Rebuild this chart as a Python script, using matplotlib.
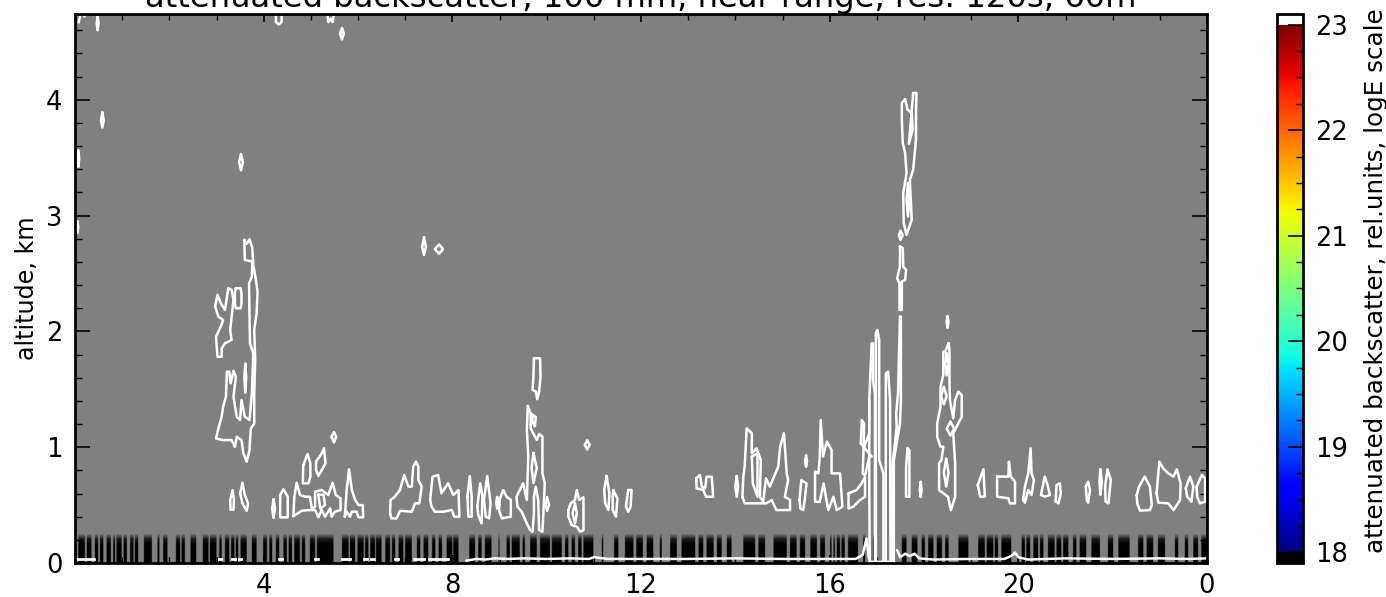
import numpy as np
import matplotlib

matplotlib.use('Agg')
import matplotlib.pyplot as plt
from matplotlib.cm import ScalarMappable
from matplotlib.colors import LinearSegmentedColormap, Normalize

# hours (0-24) and km for the contour loops
plume_main = [(3.59, 2.79), (3.64, 2.755), (3.70, 2.796), (3.76, 2.718), (3.78, 2.574), (3.83, 2.459), (3.87, 2.343),
              (3.85, 2.156), (3.80, 2.012), (3.82, 1.753), (3.80, 1.464), (3.80, 1.205), (3.73, 1.162), (3.71, 1.061),
              (3.70, .975), (3.64, .874), (3.57, .946), (3.53, 1.061), (3.43, 1.09), (3.39, 1.003), (3.32, 1.061),
              (3.14, 1.061), (2.99, 1.075), (3.04, 1.162), (3.11, 1.263), (3.14, 1.349), (3.20, 1.436), (3.22, 1.652),
              (3.27, 1.652), (3.30, 1.551), (3.36, 1.66), (3.41, 1.608), (3.36, 1.436), (3.43, 1.263), (3.50, 1.234),
              (3.53, 1.407), (3.60, 1.263), (3.70, 1.234), (3.75, 1.464), (3.78, 1.81), (3.71, 1.897), (3.70, 2.127),
              (3.69, 2.415), (3.75, 2.473), (3.76, 2.603), (3.60, 2.617)]
plume_inner = [(3.61, 1.72), (3.63, 1.6), (3.61, 1.47), (3.59, 1.6)]
plume_left = [(2.97, 2.214), (3.02, 2.315), (3.09, 2.243), (3.18, 2.185), (3.25, 2.372), (3.32, 2.358), (3.36, 2.271),
              (3.29, 2.012), (3.32, 1.925), (3.18, 1.897), (3.11, 1.853), (3.11, 1.781), (3.02, 1.781), (2.99, 1.954),
              (3.09, 2.041), (3.14, 2.098), (3.04, 2.127)]
plume_box = [(3.41, 2.372), (3.51, 2.372), (3.53, 2.33), (3.53, 2.24), (3.51, 2.199), (3.41, 2.199), (3.39, 2.24), (3.39, 2.33)]

low_morning = [
    [(3.30, .46), (3.29, .54), (3.34, .63), (3.37, .55), (3.36, .46)],
    [(3.50, .601), (3.55, .693), (3.60, .587), (3.67, .515), (3.64, .451), (3.55, .515)],
    [(4.21, .55), (4.24, .47), (4.21, .39), (4.18, .47)],
    [(4.35, .587), (4.42, .636), (4.51, .572), (4.51, .394), (4.35, .394)],
    [(4.63, .405), (4.65, .572), (4.70, .693), (4.77, .587), (4.88, .572), (4.98, .572), (5.02, .471), (5.09, .486),
     (5.09, .616), (5.23, .63), (5.37, .587), (5.46, .693), (5.53, .587), (5.63, .558), (5.63, .457), (5.51, .443),
     (5.44, .4), (5.41, .471), (5.30, .4), (5.23, .457), (5.16, .394), (5.09, .457), (4.95, .457), (4.81, .451)],
    [(5.16, .59), (5.27, .59), (5.30, .50), (5.20, .47)],
    [(5.72, .4), (5.76, .63), (5.81, .809), (5.87, .63), (5.94, .543), (6.01, .50), (6.10, .50), (6.11, .394),
     (6.01, .394), (5.97, .443), (5.87, .443), (5.83, .4), (5.76, .443)],
    [(4.84, .846), (4.93, .941), (4.99, .86), (4.99, .745), (4.95, .688), (4.83, .688)],
    [(5.11, .875), (5.21, .933), (5.28, .99), (5.31, .86), (5.16, .751), (5.11, .803)],
    [(5.44, 1.09), (5.49, 1.13), (5.54, 1.09), (5.49, 1.04)],
]

low_midday = [
    [(6.68, .428), (6.69, .544), (6.78, .572), (6.89, .63), (6.98, .76), (7.07, .659), (7.14, .659), (7.17, .832),
     (7.23, .875), (7.28, .832), (7.28, .717), (7.35, .659), (7.30, .515), (7.21, .515), (7.14, .443), (6.89, .451),
     (6.82, .385), (6.71, .385)],
    [(7.53, .544), (7.58, .745), (7.70, .76), (7.77, .601), (7.91, .688), (8.02, .587), (8.13, .63), (8.15, .40),
     (8.04, .40), (7.99, .457), (7.81, .443), (7.63, .443), (7.56, .486)],
    [(8.32, .572), (8.37, .751), (8.41, .572), (8.41, .40), (8.34, .40)],
    [(8.53, .486), (8.59, .688), (8.64, .572), (8.62, .342), (8.55, .414)],
    [(8.67, .544), (8.74, .751), (8.81, .515), (8.78, .385), (8.71, .40)],
    [(8.95, .57), (8.98, .52), (8.95, .47), (8.93, .52)],
    [(9.01, .558), (9.08, .63), (9.15, .572), (9.24, .544), (9.24, .40), (9.05, .385), (8.99, .457)],
    [(9.60, 1.356), (9.66, 1.293), (9.66, 1.163), (9.79, 1.062), (9.84, 1.114), (9.91, 1.091), (9.91, .774),
     (9.96, .688), (9.93, .428), (9.91, .27), (9.84, .284), (9.82, .544), (9.77, .659), (9.73, .572), (9.73, .428),
     (9.70, .27), (9.65, .284), (9.58, .342), (9.47, .443), (9.38, .486), (9.36, .572), (9.50, .688), (9.58, .544),
     (9.61, .918), (9.58, 1.149)],
    [(9.72, .95), (9.79, .82), (9.72, .69), (9.68, .82)],
    [(9.70, 1.28), (9.77, 1.26), (9.75, 1.18), (9.70, 1.22)],
    [(9.73, 1.768), (9.86, 1.768), (9.87, 1.61), (9.84, 1.48), (9.80, 1.414), (9.77, 1.48), (9.70, 1.495), (9.72, 1.61)],
    [(9.98, .50), (10.01, .57), (10.05, .50), (10.01, .45)],
    [(10.46, .457), (10.51, .515), (10.60, .544), (10.64, .63), (10.69, .544), (10.78, .567), (10.78, .284),
     (10.71, .27), (10.64, .313), (10.53, .327), (10.46, .40)],
    [(10.60, .515), (10.64, .43), (10.60, .342), (10.55, .43)],
    [(10.81, 1.02), (10.86, 1.06), (10.91, 1.02), (10.86, .98)],
    [(11.27, .751), (11.33, .601), (11.31, .457), (11.24, .515), (11.22, .63)],
    [(11.41, .63), (11.50, .558), (11.47, .40), (11.40, .457), (11.40, .572)],
    [(11.73, .63), (11.80, .63), (11.78, .486), (11.73, .443), (11.68, .486)],
]

low_afternoon = [
    [(13.17, .731), (13.25, .76), (13.29, .659), (13.36, .644), (13.39, .745), (13.50, .745), (13.53, .572),
     (13.38, .572), (13.32, .63), (13.18, .644)],
    [(14.03, .751), (14.06, .66), (14.03, .572), (14.0, .66)],
    [(14.15, .572), (14.17, .745), (14.20, .846), (14.24, 1.163), (14.35, 1.12), (14.35, .947), (14.45, .99),
     (14.54, .889), (14.52, .572), (14.59, .529), (14.65, .731), (14.73, .659), (14.91, .832), (14.95, 1.004),
     (15.03, 1.12), (15.09, .774), (15.12, .716), (15.05, .572), (15.16, .544), (15.16, .457), (14.87, .457),
     (14.77, .544), (14.66, .515), (14.56, .515), (14.38, .515), (14.20, .515)],
    [(14.35, .918), (14.47, .947), (14.47, .572), (14.37, .687)],
    [(15.50, .93), (15.52, .88), (15.50, .83), (15.48, .88)],
    [(15.36, .543), (15.40, .716), (15.51, .687), (15.47, .543), (15.44, .457), (15.38, .47)],
    [(15.69, .788), (15.76, .774), (15.79, .918), (15.81, 1.235), (15.86, .918), (15.94, 1.048), (16.04, .976),
     (16.04, .774), (16.22, .774), (16.27, .486), (16.15, .457), (16.08, .572), (15.97, .457), (15.87, .687),
     (15.79, .529), (15.69, .529)],
    [(16.40, .601), (16.57, .63), (16.68, .688), (16.75, .745), (16.75, .572), (16.64, .543), (16.50, .486),
     (16.40, .471)],
    [(16.66, 1.033), (16.68, 1.234), (16.73, 1.206), (16.72, 1.004), (16.70, .772), (16.75, .757), (16.85, .932),
     (16.89, .918)],
    [(17.65, .99), (17.69, .975), (17.69, .572), (17.62, .572), (17.62, .831)],
    [(17.93, .70), (17.95, .63), (17.93, .57), (17.91, .63)],
]

# these reach down to the ground
tall_strands = [
    [(16.85, .01), (16.84, .658), (16.84, 1.408), (16.89, 1.897), (16.92, 1.897), (16.92, 1.58), (16.96, 1.45), (16.96, .01)],
    [(16.98, .01), (16.98, 1.984), (17.01, 2.013), (17.05, 1.926), (17.05, .889), (17.14, .773), (17.14, .01)],
    [(17.19, .01), (17.19, 1.638), (17.24, 1.652), (17.28, 1.408), (17.29, .01)],
    [(17.33, .01), (17.33, .831), (17.42, 1.177), (17.41, 1.292), (17.45, 1.465), (17.49, 2.128), (17.51, 2.128),
     (17.51, 1.408), (17.49, 1.2), (17.36, .889), (17.36, .01)],
]
strand_open = [(16.84, 1.408), (16.84, 1.119), (16.73, 1.004)]

right_cluster = [
    [(18.50, 2.13), (18.52, 2.08), (18.50, 2.03), (18.48, 2.08)],
    [(18.52, 1.897), (18.54, 1.84), (18.54, 1.58), (18.55, 1.408), (18.62, 1.249), (18.66, 1.408), (18.73, 1.48),
     (18.80, 1.451), (18.80, 1.263), (18.62, 1.119), (18.66, .86), (18.66, .572), (18.57, .456), (18.51, .572),
     (18.32, .629), (18.32, .86), (18.37, .889), (18.41, 1.004), (18.35, 1.004), (18.28, 1.09), (18.28, 1.206),
     (18.35, 1.35), (18.35, 1.523), (18.41, 1.624), (18.41, 1.825), (18.45, 1.825)],
    [(18.48, 1.81), (18.52, 1.72), (18.48, 1.62), (18.45, 1.72)],
    [(18.42, 1.52), (18.48, 1.44), (18.42, 1.37), (18.36, 1.44)],
    [(18.56, 1.22), (18.64, 1.16), (18.56, 1.10), (18.48, 1.16)],
    [(18.47, .90), (18.52, .78), (18.47, .66), (18.42, .78)],
]

low_evening = [
    [(19.14, .673), (19.26, .809), (19.29, .573), (19.19, .573)],
    [(19.55, .746), (19.79, .746), (19.80, .875), (19.84, .746), (19.93, .702), (19.93, .515), (19.82, .515),
     (19.79, .558), (19.55, .573)],
    [(20.10, .544), (20.14, .659), (20.21, .774), (20.26, .99), (20.28, .774), (20.33, .717), (20.28, .587),
     (20.21, .63), (20.14, .521)],
    [(20.48, .587), (20.56, .746), (20.62, .673), (20.67, .587), (20.56, .573)],
    [(20.79, .53), (20.81, .673), (20.88, .688), (20.90, .601), (20.85, .515)],
    [(21.43, .659), (21.48, .702), (21.52, .63), (21.48, .521), (21.45, .544)],
    [(21.74, .809), (21.77, .70), (21.74, .587), (21.72, .70)],
    [(21.84, .659), (21.89, .809), (21.96, .717), (21.91, .515), (21.85, .53)],
    [(22.51, .587), (22.56, .659), (22.68, .746), (22.79, .659), (22.83, .5), (22.79, .457), (22.58, .452), (22.52, .515)],
    [(22.93, .601), (22.99, .875), (23.07, .818), (23.18, .774), (23.29, .746), (23.36, .809), (23.44, .688),
     (23.43, .544), (23.29, .457), (23.18, .515), (22.97, .521)],
    [(23.55, .645), (23.64, .746), (23.71, .659), (23.67, .529), (23.58, .573)],
    [(23.78, .659), (23.89, .76), (23.96, .731), (23.96, .529), (23.85, .515), (23.79, .573)],
]

column_top = [(17.77, 4.058), (17.84, 4.058), (17.83, 3.885), (17.83, 3.654), (17.77, 3.395), (17.70, 3.308),
              (17.74, 2.963), (17.63, 2.833), (17.57, 2.934), (17.56, 3.193), (17.63, 3.366), (17.60, 3.539),
              (17.55, 3.625), (17.53, 3.827), (17.53, 3.971), (17.60, 4.006), (17.65, 3.914), (17.74, 3.885),
              (17.76, 3.741), (17.68, 3.62)]
column_inner = [(17.66, 3.28), (17.69, 3.14), (17.66, 2.99), (17.63, 3.14)]
column_ring = [(17.47, 2.83), (17.50, 2.87), (17.55, 2.83), (17.50, 2.79)]
column_low = [(17.49, 2.732), (17.55, 2.718), (17.56, 2.559), (17.62, 2.53), (17.60, 2.444), (17.53, 2.43),
              (17.53, 2.184), (17.48, 2.184), (17.48, 2.415), (17.43, 2.458), (17.49, 2.559)]

specks = [
    [(.58, 3.89), (.61, 3.82), (.58, 3.76), (.55, 3.82)],
    [(.48, 4.72), (.50, 4.66), (.48, 4.60), (.46, 4.66)],
    [(.07, 3.56), (.09, 3.49), (.07, 3.42), (.05, 3.49)],
    [(.05, 2.95), (.07, 2.90), (.05, 2.85), (.04, 2.90)],
    [(3.52, 3.53), (3.56, 3.46), (3.52, 3.39), (3.48, 3.46)],
    [(7.40, 2.81), (7.44, 2.73), (7.40, 2.66), (7.36, 2.73)],
    [(7.63, 2.71), (7.72, 2.75), (7.80, 2.71), (7.72, 2.67)],
    [(5.62, 4.57), (5.66, 4.62), (5.70, 4.57), (5.66, 4.52)],
]
# open at the top edge of the axes
top_edge = [
    [(4.26, 4.8), (4.26, 4.67), (4.32, 4.65), (4.38, 4.67), (4.38, 4.8)],
    [(5.34, 4.8), (5.37, 4.67), (5.42, 4.7), (5.46, 4.67), (5.52, 4.8)],
    [(.08, 4.67), (.14, 4.78)],
    [(.20, 4.72), (.21, 4.8)],
]

# ground return line
ground_line = [(8.3, .02), (8.5, .035), (8.7, .03), (8.9, .04), (9.2, .035), (9.5, .04), (10, .035), (10.5, .04), (10.9, .035),
               (11.0, .05), (11.3, .035), (12.0, .035), (13.0, .035), (14.0, .04), (15.0, .035), (16.0, .035),
               (16.55, .035), (16.7, .07), (16.78, .21), (16.83, .05), (16.85, .02)]
ground_line2 = [(17.43, .11), (17.5, .05), (17.6, .08), (17.7, .06), (17.8, .08), (17.9, .04), (18.2, .03), (19.0, .035),
                (19.7, .035), (19.85, .06), (19.93, .09), (20.0, .05), (20.2, .03), (21.0, .04), (22.0, .035), (23.0, .04),
                (23.6, .035), (24.0, .04)]
ground_start = [.05, 3.05, 3.33, 3.47, 4.32, 5.09, 5.66, 6.12, 6.27, 6.78, 7.18, 7.5]
ground_end = [.40, 3.1, 3.39, 3.53, 4.38, 5.15, 5.82, 6.2, 6.33, 6.84, 7.4, 7.9]

# columns under the colour range, near the ground
under_start = [.07, .25, .42, .53, .67, .81, .88, 1.03, 1.17, 1.27, 1.46, 1.75, 1.87, 2.14, 2.26, 2.45, 2.71, 2.86, 3.06,
               3.18, 3.31, 3.41, 3.51, 3.75, 3.99, 4.12, 4.26, 4.42, 4.53, 4.65, 4.81, 4.98, 5.13, 5.66, 5.83, 5.99, 6.15,
               6.26, 6.38, 6.58, 6.72, 6.86, 7.0, 7.25, 7.39, 7.57, 7.71, 7.88,
               8.02, 8.36, 8.55, 8.69, 8.98, 9.15, 9.26, 9.49, 9.65, 9.86, 10.11, 10.39, 10.53, 10.67, 10.78, 11.17, 11.43,
               11.66, 11.9, 12.12, 12.4, 12.62, 12.86, 13.22, 13.39, 13.61, 13.82, 14.17, 14.49, 14.81, 15.16, 15.37,
               15.59, 15.8, 16.01, 16.08, 16.15, 16.25, 16.39, 16.71, 16.92,
               17.53, 17.74, 17.95, 18.09, 18.27, 18.45, 18.73, 19.15, 19.33, 19.5, 19.64, 20.07, 20.17, 20.32, 20.46,
               20.63, 20.81, 20.95, 21.16, 21.3, 21.55, 21.9, 22.12, 22.54, 22.72, 22.96, 23.32, 23.53, 23.71, 23.88]
under_end = [.21, .35, .49, .60, .76, .85, .99, 1.10, 1.24, 1.34, 1.63, 1.79, 1.96, 2.23, 2.33, 2.57, 2.83, 3.0, 3.11,
             3.27, 3.38, 3.46, 3.64, 3.85, 4.07, 4.18, 4.33, 4.49, 4.6, 4.77, 4.88, 5.09, 5.48, 5.8, 5.94, 6.12, 6.22,
             6.36, 6.5, 6.68, 6.79, 6.96, 7.14, 7.32, 7.49, 7.64, 7.78, 8.0,
             8.13, 8.48, 8.62, 8.83, 9.0, 9.22, 9.43, 9.54, 9.79, 10.07, 10.32, 10.46, 10.6, 10.74, 10.99, 11.2, 11.52,
             11.84, 12.04, 12.26, 12.44, 12.76, 13.15, 13.32, 13.54, 13.71, 13.92, 14.42, 14.63, 15.09, 15.3, 15.48,
             15.73, 15.9, 16.04, 16.11, 16.22, 16.32, 16.6, 16.75, 16.96,
             17.63, 17.86, 18.02, 18.2, 18.38, 18.52, 18.94, 19.29, 19.47, 19.57, 19.85, 20.14, 20.25, 20.42, 20.53,
             20.77, 20.91, 21.06, 21.23, 21.44, 21.73, 22.01, 22.36, 22.65, 22.86, 23.11, 23.39, 23.6, 23.81, 24.0]
under_profile = [1, 1, 1, 1, .8, 0]  # darkness from the ground up to 0.27 km

hour_ticks = [4, 8, 12, 16, 20, 24]
hour_labels = ['4', '8', '12', '16', '20', '0']
km_ticks = [0, 1, 2, 3, 4]
cbar_ticks = [18, 19, 20, 21, 22, 23]

W, H = 1386, 597
fig = plt.figure(figsize=(W / 100, H / 100), dpi=100)
ax = fig.add_axes([75 / W, 1 - 563 / H, (1207 - 75) / W, (563 - 14) / H])
ax.set_facecolor('#808080')

# stripes at the bottom
hours = (np.arange(2400) + .5) / 100
dark = np.zeros(2400)
for a, b in zip(under_start, under_end):
    dark[(hours >= a) & (hours <= b)] = 1
grid = np.outer(under_profile[::-1], dark)
gray_black = LinearSegmentedColormap.from_list('gray_black', ['#808080', '#000000'])
ax.imshow(grid, cmap=gray_black, vmin=0, vmax=1, extent=[0, 24, 0, .27], aspect='auto', interpolation='bilinear')

closed = [plume_main, plume_inner, plume_left, plume_box, column_top, column_inner, column_ring, column_low]
closed += low_morning + low_midday + low_afternoon + tall_strands + right_cluster + low_evening + specks
for loop in closed:
    xy = np.array(loop + loop[:1])
    ax.plot(xy[:, 0], xy[:, 1], color='white', lw=1.8, solid_joinstyle='round', solid_capstyle='round')
for path in top_edge + [strand_open, ground_line, ground_line2]:
    xy = np.array(path)
    ax.plot(xy[:, 0], xy[:, 1], color='white', lw=1.8, solid_joinstyle='round')
for a, b in zip(ground_start, ground_end):
    ax.plot([a, b], [.035, .035], color='white', lw=2)

ax.set_xlim(0, 24)
ax.set_ylim(0, 4.74)
ax.set_xticks(hour_ticks)
ax.set_xticklabels(hour_labels)
ax.set_xticks(np.arange(1, 24), minor=True)
ax.set_yticks(km_ticks)
ax.set_yticks(np.arange(0, 4.7, .2), minor=True)
ax.tick_params(axis='x', which='major', direction='in', top=True, length=6, width=1.2, labelsize=18.5, pad=7.5)
ax.tick_params(axis='x', which='minor', direction='in', top=True, length=4, width=1)
ax.tick_params(axis='y', which='major', direction='in', right=True, length=11, width=1.2, labelsize=18.5, pad=9)
ax.tick_params(axis='y', which='minor', direction='in', right=True, length=5, width=1)
for s in ax.spines.values():
    s.set_linewidth(2)
ax.set_ylabel('altitude, km', fontsize=17.2, labelpad=5)
ax.set_title('attenuated backscatter, 100 mm, near range, res: 120s, 60m', fontsize=23.2, x=.5, y=1, pad=5)

cax = fig.add_axes([1277 / W, 1 - 563 / H, 26 / W, (563 - 14) / H])
cmap = plt.get_cmap('jet').copy()
cmap.set_under('black')
cmap.set_over('white')
sm = ScalarMappable(norm=Normalize(18, 23), cmap=cmap)
cb = fig.colorbar(sm, cax=cax, extend='both', extendrect=True, extendfrac=.02)
cb.set_ticks(cbar_ticks)
cb.ax.set_yticks(np.arange(18, 23.01, .25), minor=True)
cb.ax.tick_params(which='major', direction='in', length=11, width=1.2, labelsize=18.5, pad=9)
cb.ax.tick_params(which='minor', direction='in', length=5, width=1)
cb.outline.set_linewidth(2)
cb.set_label('attenuated backscatter, rel.units, logE scale', fontsize=17.7, labelpad=11, y=.514)

fig.savefig('out.png', dpi=100)
